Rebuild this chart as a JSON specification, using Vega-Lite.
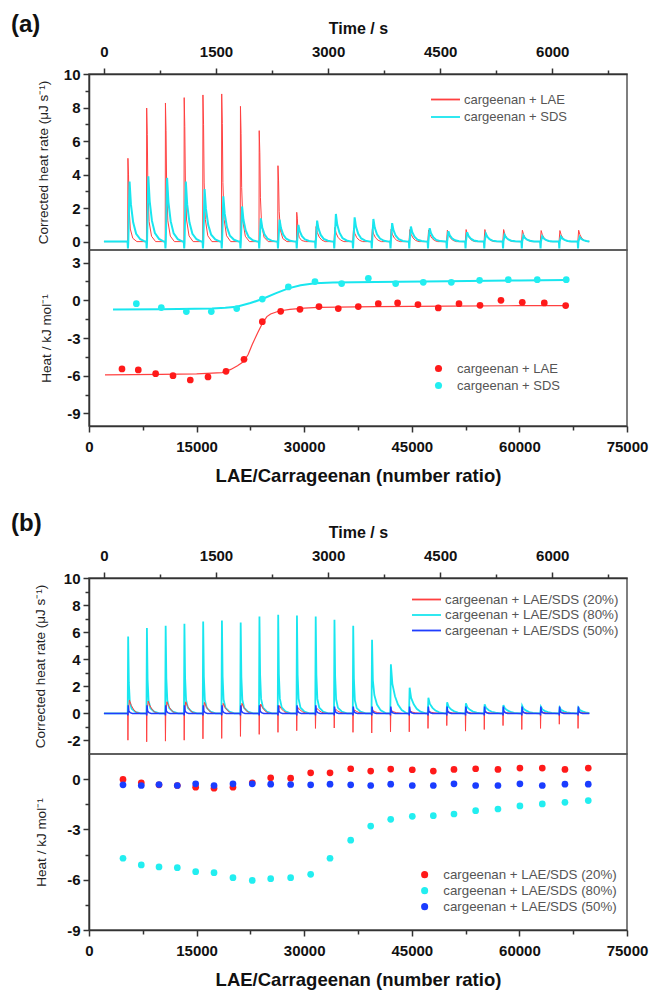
{
"$schema": "https://vega.github.io/schema/vega-lite/v6.json",
"padding": {"left": 10, "top": 12, "right": 0, "bottom": 0},
"config": {
  "font": "Liberation Sans",
  "view": {"stroke": "#555", "strokeWidth": 1.5},
  "axis": {"labelFont": "Liberation Sans", "labelFontSize": 15, "labelFontWeight": "bold", "labelColor": "#111", "titleFont": "Liberation Sans", "titleFontWeight": "normal", "titleFontSize": 13.5, "titleColor": "#222", "grid": false, "domainColor": "#333", "domainWidth": 1.5, "tickColor": "#333", "tickWidth": 1.5, "labelOverlap": false, "labelFlush": false},
  "legend": {"labelFont": "Liberation Sans", "labelColor": "#555", "padding": 0, "labelLimit": 400},
  "title": {"font": "Liberation Sans", "fontWeight": "bold", "fontSize": 24, "color": "#111"}
},
"resolve": {"scale": {"color": "independent"}, "legend": {"color": "independent"}},
"datasets": {
"aL": [{"t":0,"v":0},
{"t":318,"v":0},{"t":321,"v":4.97},{"t":329,"v":3.98},{"t":337,"v":1.99},{"t":353,"v":0.75},{"t":386,"v":0.2},{"t":441,"v":0},
{"t":569,"v":0},{"t":572,"v":7.97},{"t":580,"v":6.38},{"t":588,"v":3.19},{"t":604,"v":1.2},{"t":637,"v":0.32},{"t":692,"v":0},
{"t":820,"v":0},{"t":823,"v":8.27},{"t":831,"v":6.62},{"t":839,"v":3.31},{"t":855,"v":1.24},{"t":888,"v":0.33},{"t":943,"v":0},
{"t":1071,"v":0},{"t":1074,"v":8.59},{"t":1082,"v":6.87},{"t":1090,"v":3.44},{"t":1106,"v":1.29},{"t":1139,"v":0.34},{"t":1194,"v":0},
{"t":1322,"v":0},{"t":1325,"v":8.75},{"t":1333,"v":7.0},{"t":1341,"v":3.5},{"t":1357,"v":1.31},{"t":1390,"v":0.35},{"t":1445,"v":0},
{"t":1573,"v":0},{"t":1576,"v":8.81},{"t":1584,"v":7.05},{"t":1592,"v":3.52},{"t":1608,"v":1.32},{"t":1641,"v":0.35},{"t":1696,"v":0},
{"t":1824,"v":0},{"t":1827,"v":8.07},{"t":1835,"v":6.46},{"t":1843,"v":3.23},{"t":1859,"v":1.21},{"t":1892,"v":0.32},{"t":1947,"v":0},
{"t":2075,"v":0},{"t":2078,"v":6.62},{"t":2086,"v":5.3},{"t":2094,"v":2.65},{"t":2110,"v":0.99},{"t":2143,"v":0.26},{"t":2198,"v":0},
{"t":2326,"v":0},{"t":2329,"v":4.53},{"t":2337,"v":3.62},{"t":2345,"v":1.81},{"t":2361,"v":0.68},{"t":2394,"v":0.18},{"t":2449,"v":0},
{"t":2577,"v":0},{"t":2580,"v":1.75},{"t":2588,"v":1.4},{"t":2596,"v":0.7},{"t":2612,"v":0.26},{"t":2645,"v":0.07},{"t":2700,"v":0},
{"t":2828,"v":0},{"t":2839,"v":0.9},{"t":2856,"v":0.54},{"t":2881,"v":0.27},{"t":2916,"v":0.09},{"t":2961,"v":0},
{"t":3079,"v":0},{"t":3090,"v":0.85},{"t":3107,"v":0.51},{"t":3132,"v":0.26},{"t":3167,"v":0.09},{"t":3212,"v":0},
{"t":3330,"v":0},{"t":3341,"v":0.8},{"t":3358,"v":0.48},{"t":3383,"v":0.24},{"t":3418,"v":0.08},{"t":3463,"v":0},
{"t":3581,"v":0},{"t":3592,"v":0.76},{"t":3609,"v":0.46},{"t":3634,"v":0.23},{"t":3669,"v":0.08},{"t":3714,"v":0},
{"t":3832,"v":0},{"t":3843,"v":0.74},{"t":3860,"v":0.44},{"t":3885,"v":0.22},{"t":3920,"v":0.07},{"t":3965,"v":0},
{"t":4083,"v":0},{"t":4094,"v":0.72},{"t":4111,"v":0.43},{"t":4136,"v":0.22},{"t":4171,"v":0.07},{"t":4216,"v":0},
{"t":4334,"v":0},{"t":4345,"v":0.7},{"t":4362,"v":0.42},{"t":4387,"v":0.21},{"t":4422,"v":0.07},{"t":4467,"v":0},
{"t":4585,"v":0},{"t":4596,"v":0.68},{"t":4613,"v":0.41},{"t":4638,"v":0.2},{"t":4673,"v":0.07},{"t":4718,"v":0},
{"t":4836,"v":0},{"t":4847,"v":0.72},{"t":4864,"v":0.43},{"t":4889,"v":0.22},{"t":4924,"v":0.07},{"t":4969,"v":0},
{"t":5087,"v":0},{"t":5098,"v":0.72},{"t":5115,"v":0.43},{"t":5140,"v":0.22},{"t":5175,"v":0.07},{"t":5220,"v":0},
{"t":5338,"v":0},{"t":5349,"v":0.72},{"t":5366,"v":0.43},{"t":5391,"v":0.22},{"t":5426,"v":0.07},{"t":5471,"v":0},
{"t":5589,"v":0},{"t":5600,"v":0.68},{"t":5617,"v":0.41},{"t":5642,"v":0.2},{"t":5677,"v":0.07},{"t":5722,"v":0},
{"t":5840,"v":0},{"t":5851,"v":0.66},{"t":5868,"v":0.4},{"t":5893,"v":0.2},{"t":5928,"v":0.07},{"t":5973,"v":0},
{"t":6091,"v":0},{"t":6102,"v":0.66},{"t":6119,"v":0.4},{"t":6144,"v":0.2},{"t":6179,"v":0.07},{"t":6224,"v":0},
{"t":6342,"v":0},{"t":6353,"v":0.68},{"t":6370,"v":0.41},{"t":6395,"v":0.2},{"t":6430,"v":0.07},{"t":6475,"v":0},{"t":6496,"v":0}],
"aS": [{"t":0,"v":0},
{"t":316,"v":0},{"t":321,"v":-0.4},{"t":326,"v":0},{"t":343,"v":3.58},{"t":361,"v":2.22},{"t":391,"v":1.15},{"t":431,"v":0.47},{"t":486,"v":0.14},{"t":551,"v":0},
{"t":567,"v":0},{"t":572,"v":-0.4},{"t":577,"v":0},{"t":594,"v":3.9},{"t":612,"v":2.42},{"t":642,"v":1.25},{"t":682,"v":0.51},{"t":737,"v":0.16},{"t":802,"v":0},
{"t":818,"v":0},{"t":823,"v":-0.4},{"t":828,"v":0},{"t":845,"v":3.8},{"t":863,"v":2.36},{"t":893,"v":1.22},{"t":933,"v":0.49},{"t":988,"v":0.15},{"t":1053,"v":0},
{"t":1069,"v":0},{"t":1074,"v":-0.4},{"t":1079,"v":0},{"t":1096,"v":3.58},{"t":1114,"v":2.22},{"t":1144,"v":1.15},{"t":1184,"v":0.47},{"t":1239,"v":0.14},{"t":1304,"v":0},
{"t":1320,"v":0},{"t":1325,"v":-0.4},{"t":1330,"v":0},{"t":1347,"v":3.14},{"t":1365,"v":1.95},{"t":1395,"v":1.0},{"t":1435,"v":0.41},{"t":1490,"v":0.13},{"t":1555,"v":0},
{"t":1571,"v":0},{"t":1576,"v":-0.4},{"t":1581,"v":0},{"t":1598,"v":2.7},{"t":1616,"v":1.67},{"t":1646,"v":0.86},{"t":1686,"v":0.35},{"t":1741,"v":0.11},{"t":1806,"v":0},
{"t":1822,"v":0},{"t":1827,"v":-0.4},{"t":1832,"v":0},{"t":1849,"v":2.1},{"t":1867,"v":1.3},{"t":1897,"v":0.67},{"t":1937,"v":0.27},{"t":1992,"v":0.08},{"t":2057,"v":0},
{"t":2073,"v":0},{"t":2078,"v":-0.4},{"t":2083,"v":0},{"t":2100,"v":1.39},{"t":2118,"v":0.86},{"t":2148,"v":0.44},{"t":2188,"v":0.18},{"t":2243,"v":0.06},{"t":2308,"v":0},
{"t":2324,"v":0},{"t":2329,"v":-0.4},{"t":2334,"v":0},{"t":2351,"v":1.31},{"t":2369,"v":0.81},{"t":2399,"v":0.42},{"t":2439,"v":0.17},{"t":2494,"v":0.05},{"t":2559,"v":0},
{"t":2575,"v":0},{"t":2580,"v":-0.4},{"t":2585,"v":0},{"t":2602,"v":1.0},{"t":2620,"v":0.62},{"t":2650,"v":0.32},{"t":2690,"v":0.13},{"t":2745,"v":0.04},{"t":2810,"v":0},
{"t":2826,"v":0},{"t":2831,"v":-0.4},{"t":2836,"v":0},{"t":2853,"v":1.25},{"t":2871,"v":0.78},{"t":2901,"v":0.4},{"t":2941,"v":0.16},{"t":2996,"v":0.05},{"t":3061,"v":0},
{"t":3077,"v":0},{"t":3082,"v":-0.4},{"t":3087,"v":0},{"t":3104,"v":1.65},{"t":3122,"v":1.02},{"t":3152,"v":0.53},{"t":3192,"v":0.21},{"t":3247,"v":0.07},{"t":3312,"v":0},
{"t":3328,"v":0},{"t":3333,"v":-0.4},{"t":3338,"v":0},{"t":3355,"v":1.45},{"t":3373,"v":0.9},{"t":3403,"v":0.46},{"t":3443,"v":0.19},{"t":3498,"v":0.06},{"t":3563,"v":0},
{"t":3579,"v":0},{"t":3584,"v":-0.4},{"t":3589,"v":0},{"t":3606,"v":1.35},{"t":3624,"v":0.84},{"t":3654,"v":0.43},{"t":3694,"v":0.18},{"t":3749,"v":0.05},{"t":3814,"v":0},
{"t":3830,"v":0},{"t":3835,"v":-0.4},{"t":3840,"v":0},{"t":3857,"v":1.1},{"t":3875,"v":0.68},{"t":3905,"v":0.35},{"t":3945,"v":0.14},{"t":4000,"v":0.04},{"t":4065,"v":0},
{"t":4081,"v":0},{"t":4086,"v":-0.4},{"t":4091,"v":0},{"t":4108,"v":0.9},{"t":4126,"v":0.56},{"t":4156,"v":0.29},{"t":4196,"v":0.12},{"t":4251,"v":0.04},{"t":4316,"v":0},
{"t":4332,"v":0},{"t":4337,"v":-0.4},{"t":4342,"v":0},{"t":4359,"v":0.8},{"t":4377,"v":0.5},{"t":4407,"v":0.26},{"t":4447,"v":0.1},{"t":4502,"v":0.03},{"t":4567,"v":0},
{"t":4583,"v":0},{"t":4588,"v":-0.4},{"t":4593,"v":0},{"t":4610,"v":0.62},{"t":4628,"v":0.38},{"t":4658,"v":0.2},{"t":4698,"v":0.08},{"t":4753,"v":0.02},{"t":4818,"v":0},
{"t":4834,"v":0},{"t":4839,"v":-0.4},{"t":4844,"v":0},{"t":4861,"v":0.56},{"t":4879,"v":0.35},{"t":4909,"v":0.18},{"t":4949,"v":0.07},{"t":5004,"v":0.02},{"t":5069,"v":0},
{"t":5085,"v":0},{"t":5090,"v":-0.4},{"t":5095,"v":0},{"t":5112,"v":0.46},{"t":5130,"v":0.29},{"t":5160,"v":0.15},{"t":5200,"v":0.06},{"t":5255,"v":0.02},{"t":5320,"v":0},
{"t":5336,"v":0},{"t":5341,"v":-0.4},{"t":5346,"v":0},{"t":5363,"v":0.4},{"t":5381,"v":0.25},{"t":5411,"v":0.13},{"t":5451,"v":0.05},{"t":5506,"v":0.02},{"t":5571,"v":0},
{"t":5587,"v":0},{"t":5592,"v":-0.4},{"t":5597,"v":0},{"t":5614,"v":0.36},{"t":5632,"v":0.22},{"t":5662,"v":0.12},{"t":5702,"v":0.05},{"t":5757,"v":0.01},{"t":5822,"v":0},
{"t":5838,"v":0},{"t":5843,"v":-0.4},{"t":5848,"v":0},{"t":5865,"v":0.32},{"t":5883,"v":0.2},{"t":5913,"v":0.1},{"t":5953,"v":0.04},{"t":6008,"v":0.01},{"t":6073,"v":0},
{"t":6089,"v":0},{"t":6094,"v":-0.4},{"t":6099,"v":0},{"t":6116,"v":0.3},{"t":6134,"v":0.19},{"t":6164,"v":0.1},{"t":6204,"v":0.04},{"t":6259,"v":0.01},{"t":6324,"v":0},
{"t":6340,"v":0},{"t":6345,"v":-0.4},{"t":6350,"v":0},{"t":6367,"v":0.28},{"t":6385,"v":0.17},{"t":6415,"v":0.09},{"t":6455,"v":0.04},{"t":6496,"v":0.01}],
"aLp": [{"r":4600,"h":-5.46},{"r":6870,"h":-5.54},{"r":9290,"h":-5.84},{"r":11710,"h":-6.0},{"r":14120,"h":-6.34},{"r":16590,"h":-6.1},{"r":19100,"h":-5.65},{"r":21610,"h":-4.7},{"r":24160,"h":-1.7},{"r":26720,"h":-0.88},{"r":29410,"h":-0.72},{"r":32060,"h":-0.5},{"r":34750,"h":-0.66},{"r":37540,"h":-0.5},{"r":40330,"h":-0.27},{"r":43020,"h":-0.21},{"r":45860,"h":-0.34},{"r":48690,"h":-0.61},{"r":51580,"h":-0.27},{"r":54510,"h":-0.4},{"r":57430,"h":0.0},{"r":60400,"h":-0.16},{"r":63470,"h":-0.21},{"r":66450,"h":-0.42}],
"aSp": [{"r":6600,"h":-0.27},{"r":10080,"h":-0.58},{"r":13570,"h":-0.9},{"r":17050,"h":-0.9},{"r":20590,"h":-0.66},{"r":24160,"h":0.1},{"r":27790,"h":1.06},{"r":31500,"h":1.49},{"r":35220,"h":1.33},{"r":38940,"h":1.75},{"r":42750,"h":1.33},{"r":46600,"h":1.43},{"r":50510,"h":1.43},{"r":54450,"h":1.59},{"r":58450,"h":1.64},{"r":62490,"h":1.64},{"r":66530,"h":1.64}],
"aLf": [{"r":2230,"h":-5.93},{"r":10000,"h":-5.9},{"r":15000,"h":-5.85},{"r":18570,"h":-5.75},{"r":19770,"h":-5.5},{"r":20700,"h":-5.2},{"r":21610,"h":-4.85},{"r":22200,"h":-4.3},{"r":22770,"h":-3.5},{"r":23500,"h":-2.6},{"r":24160,"h":-1.85},{"r":24800,"h":-1.3},{"r":25320,"h":-1.09},{"r":26500,"h":-0.85},{"r":28000,"h":-0.72},{"r":30000,"h":-0.62},{"r":32000,"h":-0.57},{"r":40000,"h":-0.5},{"r":50000,"h":-0.46},{"r":60000,"h":-0.43},{"r":66450,"h":-0.42}],
"aSf": [{"r":3350,"h":-0.74},{"r":10000,"h":-0.72},{"r":17150,"h":-0.66},{"r":19000,"h":-0.6},{"r":20590,"h":-0.52},{"r":22500,"h":-0.22},{"r":24160,"h":0.1},{"r":26000,"h":0.55},{"r":27790,"h":0.95},{"r":29500,"h":1.2},{"r":31500,"h":1.35},{"r":34000,"h":1.42},{"r":40000,"h":1.46},{"r":50000,"h":1.52},{"r":60000,"h":1.58},{"r":66530,"h":1.62}],
"bC": [{"t":0,"v":0},
{"t":318,"v":0},{"t":324,"v":5.68},{"t":333,"v":2.27},{"t":346,"v":0.85},{"t":371,"v":0.34},{"t":421,"v":0.11},{"t":491,"v":0},
{"t":569,"v":0},{"t":575,"v":6.3},{"t":584,"v":2.52},{"t":597,"v":0.95},{"t":622,"v":0.38},{"t":672,"v":0.13},{"t":742,"v":0},
{"t":820,"v":0},{"t":826,"v":6.47},{"t":835,"v":2.59},{"t":848,"v":0.97},{"t":873,"v":0.39},{"t":923,"v":0.13},{"t":993,"v":0},
{"t":1071,"v":0},{"t":1077,"v":6.62},{"t":1086,"v":2.65},{"t":1099,"v":0.99},{"t":1124,"v":0.4},{"t":1174,"v":0.13},{"t":1244,"v":0},
{"t":1322,"v":0},{"t":1328,"v":6.79},{"t":1337,"v":2.72},{"t":1350,"v":1.02},{"t":1375,"v":0.41},{"t":1425,"v":0.14},{"t":1495,"v":0},
{"t":1573,"v":0},{"t":1579,"v":6.86},{"t":1588,"v":2.74},{"t":1601,"v":1.03},{"t":1626,"v":0.41},{"t":1676,"v":0.14},{"t":1746,"v":0},
{"t":1824,"v":0},{"t":1830,"v":6.72},{"t":1839,"v":2.69},{"t":1852,"v":1.01},{"t":1877,"v":0.4},{"t":1927,"v":0.13},{"t":1997,"v":0},
{"t":2075,"v":0},{"t":2081,"v":7.16},{"t":2090,"v":2.86},{"t":2103,"v":1.07},{"t":2128,"v":0.43},{"t":2178,"v":0.14},{"t":2248,"v":0},
{"t":2326,"v":0},{"t":2332,"v":7.28},{"t":2341,"v":2.91},{"t":2354,"v":1.09},{"t":2379,"v":0.44},{"t":2429,"v":0.15},{"t":2499,"v":0},
{"t":2577,"v":0},{"t":2583,"v":7.23},{"t":2592,"v":2.89},{"t":2605,"v":1.08},{"t":2630,"v":0.43},{"t":2680,"v":0.14},{"t":2750,"v":0},
{"t":2828,"v":0},{"t":2834,"v":7.16},{"t":2843,"v":2.86},{"t":2856,"v":1.07},{"t":2881,"v":0.43},{"t":2931,"v":0.14},{"t":3001,"v":0},
{"t":3079,"v":0},{"t":3085,"v":6.91},{"t":3094,"v":2.76},{"t":3107,"v":1.04},{"t":3132,"v":0.41},{"t":3182,"v":0.14},{"t":3252,"v":0},
{"t":3330,"v":0},{"t":3336,"v":6.47},{"t":3345,"v":2.59},{"t":3358,"v":0.97},{"t":3383,"v":0.39},{"t":3433,"v":0.13},{"t":3503,"v":0},
{"t":3581,"v":0},{"t":3588,"v":5.43},{"t":3599,"v":2.44},{"t":3619,"v":1.36},{"t":3654,"v":0.65},{"t":3704,"v":0.22},{"t":3774,"v":0},
{"t":3832,"v":0},{"t":3840,"v":3.63},{"t":3860,"v":2.18},{"t":3895,"v":1.27},{"t":3935,"v":0.65},{"t":3985,"v":0.25},{"t":4055,"v":0},
{"t":4083,"v":0},{"t":4091,"v":1.9},{"t":4111,"v":1.14},{"t":4146,"v":0.67},{"t":4186,"v":0.34},{"t":4236,"v":0.13},{"t":4306,"v":0},
{"t":4334,"v":0},{"t":4342,"v":1.16},{"t":4362,"v":0.7},{"t":4397,"v":0.41},{"t":4437,"v":0.21},{"t":4487,"v":0.08},{"t":4557,"v":0},
{"t":4585,"v":0},{"t":4593,"v":0.81},{"t":4613,"v":0.49},{"t":4648,"v":0.28},{"t":4688,"v":0.15},{"t":4738,"v":0.06},{"t":4808,"v":0},
{"t":4836,"v":0},{"t":4844,"v":0.74},{"t":4864,"v":0.44},{"t":4899,"v":0.26},{"t":4939,"v":0.13},{"t":4989,"v":0.05},{"t":5059,"v":0},
{"t":5087,"v":0},{"t":5095,"v":0.67},{"t":5115,"v":0.4},{"t":5150,"v":0.23},{"t":5190,"v":0.12},{"t":5240,"v":0.05},{"t":5310,"v":0},
{"t":5338,"v":0},{"t":5346,"v":0.62},{"t":5366,"v":0.37},{"t":5401,"v":0.22},{"t":5441,"v":0.11},{"t":5491,"v":0.04},{"t":5561,"v":0},
{"t":5589,"v":0},{"t":5597,"v":0.57},{"t":5617,"v":0.34},{"t":5652,"v":0.2},{"t":5692,"v":0.1},{"t":5742,"v":0.04},{"t":5812,"v":0},
{"t":5840,"v":0},{"t":5848,"v":0.49},{"t":5868,"v":0.29},{"t":5903,"v":0.17},{"t":5943,"v":0.09},{"t":5993,"v":0.03},{"t":6063,"v":0},
{"t":6091,"v":0},{"t":6099,"v":0.44},{"t":6119,"v":0.26},{"t":6154,"v":0.15},{"t":6194,"v":0.08},{"t":6244,"v":0.03},{"t":6314,"v":0},
{"t":6342,"v":0},{"t":6350,"v":0.42},{"t":6370,"v":0.25},{"t":6405,"v":0.15},{"t":6445,"v":0.08},{"t":6496,"v":0.02}],
"bR": [{"t":0,"v":0},
{"t":318,"v":0},{"t":321,"v":-1.98},{"t":325,"v":0},{"t":341,"v":0.99},{"t":366,"v":0.59},{"t":401,"v":0.25},{"t":441,"v":0.05},{"t":481,"v":0},
{"t":569,"v":0},{"t":572,"v":-2.1},{"t":576,"v":0},{"t":592,"v":0.91},{"t":617,"v":0.55},{"t":652,"v":0.23},{"t":692,"v":0.05},{"t":732,"v":0},
{"t":820,"v":0},{"t":823,"v":-2.05},{"t":827,"v":0},{"t":843,"v":0.86},{"t":868,"v":0.52},{"t":903,"v":0.22},{"t":943,"v":0.04},{"t":983,"v":0},
{"t":1071,"v":0},{"t":1074,"v":-1.98},{"t":1078,"v":0},{"t":1094,"v":0.86},{"t":1119,"v":0.52},{"t":1154,"v":0.22},{"t":1194,"v":0.04},{"t":1234,"v":0},
{"t":1322,"v":0},{"t":1325,"v":-1.88},{"t":1329,"v":0},{"t":1345,"v":0.81},{"t":1370,"v":0.49},{"t":1405,"v":0.2},{"t":1445,"v":0.04},{"t":1485,"v":0},
{"t":1573,"v":0},{"t":1576,"v":-1.85},{"t":1580,"v":0},{"t":1596,"v":0.74},{"t":1621,"v":0.44},{"t":1656,"v":0.19},{"t":1696,"v":0.04},{"t":1736,"v":0},
{"t":1824,"v":0},{"t":1827,"v":-1.7},{"t":1831,"v":0},{"t":1847,"v":0.74},{"t":1872,"v":0.44},{"t":1907,"v":0.19},{"t":1947,"v":0.04},{"t":1987,"v":0},
{"t":2075,"v":0},{"t":2078,"v":-1.55},{"t":2082,"v":0},{"t":2098,"v":0.69},{"t":2123,"v":0.41},{"t":2158,"v":0.17},{"t":2198,"v":0.03},{"t":2238,"v":0},
{"t":2326,"v":0},{"t":2329,"v":-1.4},{"t":2333,"v":0},{"t":2349,"v":0.57},{"t":2374,"v":0.34},{"t":2409,"v":0.14},{"t":2449,"v":0.03},{"t":2489,"v":0},
{"t":2577,"v":0},{"t":2580,"v":-1.28},{"t":2584,"v":0},{"t":2600,"v":0.42},{"t":2625,"v":0.25},{"t":2660,"v":0.11},{"t":2700,"v":0.02},{"t":2740,"v":0},
{"t":2828,"v":0},{"t":2831,"v":-1.11},{"t":2835,"v":0},{"t":2851,"v":0.37},{"t":2876,"v":0.22},{"t":2911,"v":0.09},{"t":2951,"v":0.02},{"t":2991,"v":0},
{"t":3079,"v":0},{"t":3082,"v":-1.08},{"t":3086,"v":0},{"t":3102,"v":0.3},{"t":3127,"v":0.18},{"t":3162,"v":0.08},{"t":3202,"v":0.02},{"t":3242,"v":0},
{"t":3330,"v":0},{"t":3333,"v":-1.4},{"t":3337,"v":0},{"t":3353,"v":0.25},{"t":3378,"v":0.15},{"t":3413,"v":0.06},{"t":3493,"v":0},
{"t":3581,"v":0},{"t":3584,"v":-1.45},{"t":3588,"v":0},{"t":3604,"v":0.2},{"t":3629,"v":0.12},{"t":3664,"v":0.05},{"t":3744,"v":0},
{"t":3832,"v":0},{"t":3835,"v":-1.36},{"t":3839,"v":0},{"t":3855,"v":0.18},{"t":3880,"v":0.11},{"t":3915,"v":0.05},{"t":3995,"v":0},
{"t":4083,"v":0},{"t":4086,"v":-1.36},{"t":4090,"v":0},{"t":4106,"v":0.15},{"t":4131,"v":0.09},{"t":4166,"v":0.04},{"t":4246,"v":0},
{"t":4334,"v":0},{"t":4337,"v":-1.11},{"t":4341,"v":0},{"t":4357,"v":0.14},{"t":4382,"v":0.08},{"t":4417,"v":0.04},{"t":4497,"v":0},
{"t":4585,"v":0},{"t":4588,"v":-0.9},{"t":4592,"v":0},{"t":4608,"v":0.12},{"t":4633,"v":0.07},{"t":4668,"v":0.03},{"t":4748,"v":0},
{"t":4836,"v":0},{"t":4839,"v":-1.31},{"t":4843,"v":0},{"t":4859,"v":0.12},{"t":4884,"v":0.07},{"t":4919,"v":0.03},{"t":4999,"v":0},
{"t":5087,"v":0},{"t":5090,"v":-1.19},{"t":5094,"v":0},{"t":5110,"v":0.1},{"t":5135,"v":0.06},{"t":5170,"v":0.03},{"t":5250,"v":0},
{"t":5338,"v":0},{"t":5341,"v":-0.9},{"t":5345,"v":0},{"t":5361,"v":0.1},{"t":5386,"v":0.06},{"t":5421,"v":0.03},{"t":5501,"v":0},
{"t":5589,"v":0},{"t":5592,"v":-1.19},{"t":5596,"v":0},{"t":5612,"v":0.1},{"t":5637,"v":0.06},{"t":5672,"v":0.03},{"t":5752,"v":0},
{"t":5840,"v":0},{"t":5843,"v":-1.11},{"t":5847,"v":0},{"t":5863,"v":0.1},{"t":5888,"v":0.06},{"t":5923,"v":0.03},{"t":6003,"v":0},
{"t":6091,"v":0},{"t":6094,"v":-0.8},{"t":6098,"v":0},{"t":6114,"v":0.1},{"t":6139,"v":0.06},{"t":6174,"v":0.03},{"t":6254,"v":0},
{"t":6342,"v":0},{"t":6345,"v":-1.11},{"t":6349,"v":0},{"t":6365,"v":0.1},{"t":6390,"v":0.06},{"t":6425,"v":0.03},{"t":6496,"v":0}],
"bB": [{"t":0,"v":0},
{"t":318,"v":0},{"t":321,"v":-0.15},{"t":325,"v":0.6},{"t":333,"v":0.18},{"t":351,"v":0.05},{"t":381,"v":0},
{"t":569,"v":0},{"t":572,"v":-0.15},{"t":576,"v":0.6},{"t":584,"v":0.18},{"t":602,"v":0.05},{"t":632,"v":0},
{"t":820,"v":0},{"t":823,"v":-0.15},{"t":827,"v":0.6},{"t":835,"v":0.18},{"t":853,"v":0.05},{"t":883,"v":0},
{"t":1071,"v":0},{"t":1074,"v":-0.15},{"t":1078,"v":0.6},{"t":1086,"v":0.18},{"t":1104,"v":0.05},{"t":1134,"v":0},
{"t":1322,"v":0},{"t":1325,"v":-0.15},{"t":1329,"v":0.6},{"t":1337,"v":0.18},{"t":1355,"v":0.05},{"t":1385,"v":0},
{"t":1573,"v":0},{"t":1576,"v":-0.15},{"t":1580,"v":0.6},{"t":1588,"v":0.18},{"t":1606,"v":0.05},{"t":1636,"v":0},
{"t":1824,"v":0},{"t":1827,"v":-0.15},{"t":1831,"v":0.6},{"t":1839,"v":0.18},{"t":1857,"v":0.05},{"t":1887,"v":0},
{"t":2075,"v":0},{"t":2078,"v":-0.15},{"t":2082,"v":0.6},{"t":2090,"v":0.18},{"t":2108,"v":0.05},{"t":2138,"v":0},
{"t":2326,"v":0},{"t":2329,"v":-0.15},{"t":2333,"v":0.6},{"t":2341,"v":0.18},{"t":2359,"v":0.05},{"t":2389,"v":0},
{"t":2577,"v":0},{"t":2580,"v":-0.15},{"t":2584,"v":0.6},{"t":2592,"v":0.18},{"t":2610,"v":0.05},{"t":2640,"v":0},
{"t":2828,"v":0},{"t":2831,"v":-0.15},{"t":2835,"v":0.6},{"t":2843,"v":0.18},{"t":2861,"v":0.05},{"t":2891,"v":0},
{"t":3079,"v":0},{"t":3082,"v":-0.15},{"t":3086,"v":0.5},{"t":3094,"v":0.15},{"t":3112,"v":0.04},{"t":3142,"v":0},
{"t":3330,"v":0},{"t":3333,"v":-0.15},{"t":3337,"v":0.5},{"t":3345,"v":0.15},{"t":3363,"v":0.04},{"t":3393,"v":0},
{"t":3581,"v":0},{"t":3584,"v":-0.15},{"t":3588,"v":0.5},{"t":3596,"v":0.15},{"t":3614,"v":0.04},{"t":3644,"v":0},
{"t":3832,"v":0},{"t":3835,"v":-0.15},{"t":3839,"v":0.5},{"t":3847,"v":0.15},{"t":3865,"v":0.04},{"t":3895,"v":0},
{"t":4083,"v":0},{"t":4086,"v":-0.15},{"t":4090,"v":0.5},{"t":4098,"v":0.15},{"t":4116,"v":0.04},{"t":4146,"v":0},
{"t":4334,"v":0},{"t":4337,"v":-0.15},{"t":4341,"v":0.5},{"t":4349,"v":0.15},{"t":4367,"v":0.04},{"t":4397,"v":0},
{"t":4585,"v":0},{"t":4588,"v":-0.15},{"t":4592,"v":0.5},{"t":4600,"v":0.15},{"t":4618,"v":0.04},{"t":4648,"v":0},
{"t":4836,"v":0},{"t":4839,"v":-0.15},{"t":4843,"v":0.5},{"t":4851,"v":0.15},{"t":4869,"v":0.04},{"t":4899,"v":0},
{"t":5087,"v":0},{"t":5090,"v":-0.15},{"t":5094,"v":0.5},{"t":5102,"v":0.15},{"t":5120,"v":0.04},{"t":5150,"v":0},
{"t":5338,"v":0},{"t":5341,"v":-0.15},{"t":5345,"v":0.5},{"t":5353,"v":0.15},{"t":5371,"v":0.04},{"t":5401,"v":0},
{"t":5589,"v":0},{"t":5592,"v":-0.15},{"t":5596,"v":0.5},{"t":5604,"v":0.15},{"t":5622,"v":0.04},{"t":5652,"v":0},
{"t":5840,"v":0},{"t":5843,"v":-0.15},{"t":5847,"v":0.5},{"t":5855,"v":0.15},{"t":5873,"v":0.04},{"t":5903,"v":0},
{"t":6091,"v":0},{"t":6094,"v":-0.15},{"t":6098,"v":0.5},{"t":6106,"v":0.15},{"t":6124,"v":0.04},{"t":6154,"v":0},
{"t":6342,"v":0},{"t":6345,"v":-0.15},{"t":6349,"v":0.5},{"t":6357,"v":0.15},{"t":6375,"v":0.04},{"t":6405,"v":0},{"t":6496,"v":0}],
"bRp": [{"r":4740,"h":-0.02},{"r":7290,"h":-0.22},{"r":9760,"h":-0.34},{"r":12310,"h":-0.38},{"r":14870,"h":-0.48},{"r":17430,"h":-0.54},{"r":20070,"h":-0.48},{"r":22760,"h":-0.22},{"r":25330,"h":0.08},{"r":28110,"h":0.06},{"r":30900,"h":0.38},{"r":33600,"h":0.38},{"r":36480,"h":0.62},{"r":39270,"h":0.48},{"r":42060,"h":0.6},{"r":45070,"h":0.56},{"r":48000,"h":0.48},{"r":50880,"h":0.58},{"r":53900,"h":0.62},{"r":57010,"h":0.58},{"r":60070,"h":0.66},{"r":63190,"h":0.66},{"r":66350,"h":0.58},{"r":69600,"h":0.66}],
"bCp": [{"r":4740,"h":-4.72},{"r":7290,"h":-5.12},{"r":9760,"h":-5.24},{"r":12310,"h":-5.28},{"r":14870,"h":-5.52},{"r":17430,"h":-5.58},{"r":20070,"h":-5.88},{"r":22760,"h":-6.04},{"r":25330,"h":-5.94},{"r":28110,"h":-5.88},{"r":30900,"h":-5.68},{"r":33600,"h":-4.72},{"r":36480,"h":-3.64},{"r":39270,"h":-2.8},{"r":42060,"h":-2.4},{"r":45070,"h":-2.22},{"r":48000,"h":-2.18},{"r":50880,"h":-2.08},{"r":53900,"h":-1.88},{"r":57010,"h":-1.78},{"r":60070,"h":-1.6},{"r":63190,"h":-1.48},{"r":66350,"h":-1.38},{"r":69600,"h":-1.28}],
"bBp": [{"r":4740,"h":-0.34},{"r":7290,"h":-0.38},{"r":9760,"h":-0.32},{"r":12310,"h":-0.38},{"r":14870,"h":-0.28},{"r":17430,"h":-0.38},{"r":20070,"h":-0.28},{"r":22760,"h":-0.28},{"r":25330,"h":-0.3},{"r":28110,"h":-0.32},{"r":30900,"h":-0.34},{"r":33600,"h":-0.3},{"r":36480,"h":-0.34},{"r":39270,"h":-0.38},{"r":42060,"h":-0.3},{"r":45070,"h":-0.38},{"r":48000,"h":-0.38},{"r":50880,"h":-0.28},{"r":53900,"h":-0.38},{"r":57010,"h":-0.38},{"r":60070,"h":-0.28},{"r":63190,"h":-0.38},{"r":66350,"h":-0.3},{"r":69600,"h":-0.3}]
},
"vconcat": [
{
  "width": 538, "height": 176,
  "title": {"text": "(a)", "anchor": "start", "frame": "group", "baseline": "alphabetic", "dx": -78, "dy": 40},
  "encoding": {
    "x": {"field": "t", "type": "quantitative", "scale": {"domain": [-200, 7000], "nice": false, "zero": false},
      "axis": {"orient": "top", "title": "Time / s", "titleFontSize": 16, "titleFontWeight": "bold", "titleColor": "#111", "values": [0,750,1500,2250,3000,3750,4500,5250,6000,6750], "format": "d", "labelExpr": "datum.value % 1500 == 0 ? datum.label : ''", "tickSize": {"condition": {"test": "datum.value % 1500 == 0", "value": 6}, "value": 4}, "labelPadding": 9, "titlePadding": 8}},
    "y": {"field": "v", "type": "quantitative", "scale": {"domain": [-0.5, 10], "nice": false, "zero": false},
      "axis": {"title": "Corrected heat rate (μJ s⁻¹)", "values": [0,1,2,3,4,5,6,7,8,9,10], "labelExpr": "datum.value % 2 == 0 ? '' + datum.value : ''", "tickSize": {"condition": {"test": "datum.value % 2 == 0", "value": 6}, "value": 4}, "labelPadding": 3, "titlePadding": 13}}
  },
  "layer": [
    {"data": {"name": "aL"}, "mark": {"type": "line", "strokeWidth": 1},
     "encoding": {"color": {"datum": "cargeenan + LAE", "scale": {"domain": ["cargeenan + LAE", "cargeenan + SDS"], "range": ["#ff4040", "#19e6ef"]},
       "legend": {"orient": "none", "legendX": 348, "legendY": 17, "title": null, "symbolType": "M-2,0H2", "symbolSize": 210, "symbolStrokeWidth": 1.8, "labelFontSize": 13, "labelOffset": 10, "rowPadding": 1.5}}}},
    {"data": {"name": "aS"}, "mark": {"type": "line", "strokeWidth": 2},
     "encoding": {"color": {"datum": "cargeenan + SDS"}}}
  ]
},
{
  "width": 538, "height": 176,
  "encoding": {
    "x": {"field": "r", "type": "quantitative", "scale": {"domain": [0, 75000], "nice": false, "zero": false},
      "axis": {"orient": "bottom", "title": "LAE/Carrageenan (number ratio)", "titleFontSize": 18.5, "titleFontWeight": "bold", "titleColor": "#111", "values": [0,7500,15000,22500,30000,37500,45000,52500,60000,67500,75000], "format": "d", "labelExpr": "datum.value % 15000 == 0 ? datum.label : ''", "tickSize": {"condition": {"test": "datum.value % 15000 == 0", "value": 6}, "value": 4}, "labelPadding": 7, "titlePadding": 12}},
    "y": {"field": "h", "type": "quantitative", "scale": {"domain": [-10, 4], "nice": false, "zero": false},
      "axis": {"title": "Heat / kJ mol⁻¹", "values": [-9,-7.5,-6,-4.5,-3,-1.5,0,1.5,3], "labelExpr": "datum.value % 3 == 0 ? '' + datum.value : ''", "tickSize": {"condition": {"test": "datum.value % 3 == 0", "value": 6}, "value": 4}, "labelPadding": 3, "titlePadding": 13}}
  },
  "layer": [
    {"data": {"name": "aLf"}, "mark": {"type": "line", "strokeWidth": 1.2, "color": "#ff4040"}},
    {"data": {"name": "aSf"}, "mark": {"type": "line", "strokeWidth": 2, "color": "#19e6ef"}},
    {"data": {"name": "aLp"}, "mark": {"type": "circle", "size": 45, "opacity": 1},
     "encoding": {"color": {"datum": "cargeenan + LAE", "scale": {"domain": ["cargeenan + LAE", "cargeenan + SDS"], "range": ["#ff1a1a", "#22eef0"]},
       "legend": {"orient": "none", "legendX": 343, "legendY": 112, "title": null, "symbolType": "circle", "symbolSize": 50, "symbolOpacity": 1, "labelFontSize": 13, "labelOffset": 12, "rowPadding": 3}}}},
    {"data": {"name": "aSp"}, "mark": {"type": "circle", "size": 45, "opacity": 1},
     "encoding": {"color": {"datum": "cargeenan + SDS"}}}
  ]
},
{
  "width": 538, "height": 152,
  "data": {"values": []},
  "mark": "point",
  "view": {"stroke": null}
},
{
  "width": 538, "height": 176,
  "title": {"text": "(b)", "anchor": "start", "frame": "group", "baseline": "alphabetic", "dx": -78, "dy": 35},
  "encoding": {
    "x": {"field": "t", "type": "quantitative", "scale": {"domain": [-200, 7000], "nice": false, "zero": false},
      "axis": {"orient": "top", "title": "Time / s", "titleFontSize": 16, "titleFontWeight": "bold", "titleColor": "#111", "values": [0,750,1500,2250,3000,3750,4500,5250,6000,6750], "format": "d", "labelExpr": "datum.value % 1500 == 0 ? datum.label : ''", "tickSize": {"condition": {"test": "datum.value % 1500 == 0", "value": 6}, "value": 4}, "labelPadding": 9, "titlePadding": 8}},
    "y": {"field": "v", "type": "quantitative", "scale": {"domain": [-3, 10], "nice": false, "zero": false},
      "axis": {"title": "Corrected heat rate (μJ s⁻¹)", "values": [-2,-1,0,1,2,3,4,5,6,7,8,9,10], "labelExpr": "datum.value % 2 == 0 ? '' + datum.value : ''", "tickSize": {"condition": {"test": "datum.value % 2 == 0", "value": 6}, "value": 4}, "labelPadding": 3, "titlePadding": 16}}
  },
  "layer": [
    {"data": {"name": "bC"}, "mark": {"type": "line", "strokeWidth": 1.8},
     "encoding": {"color": {"datum": "cargeenan + LAE/SDS (80%)", "scale": {"domain": ["cargeenan + LAE/SDS (20%)", "cargeenan + LAE/SDS (80%)", "cargeenan + LAE/SDS (50%)"], "range": ["#ff4040", "#19e6ef", "#1f3dff"]},
       "legend": {"orient": "none", "legendX": 329, "legendY": 13, "title": null, "symbolType": "M-2,0H2", "symbolSize": 210, "symbolStrokeWidth": 1.8, "labelFontSize": 13.3, "labelOffset": 10, "rowPadding": 0.5}}}},
    {"data": {"name": "bR"}, "mark": {"type": "line", "strokeWidth": 1},
     "encoding": {"color": {"datum": "cargeenan + LAE/SDS (20%)"}}},
    {"data": {"name": "bB"}, "mark": {"type": "line", "strokeWidth": 1.5},
     "encoding": {"color": {"datum": "cargeenan + LAE/SDS (50%)"}}}
  ]
},
{
  "width": 538, "height": 176,
  "encoding": {
    "x": {"field": "r", "type": "quantitative", "scale": {"domain": [0, 75000], "nice": false, "zero": false},
      "axis": {"orient": "bottom", "title": "LAE/Carrageenan (number ratio)", "titleFontSize": 18.5, "titleFontWeight": "bold", "titleColor": "#111", "values": [0,7500,15000,22500,30000,37500,45000,52500,60000,67500,75000], "format": "d", "labelExpr": "datum.value % 15000 == 0 ? datum.label : ''", "tickSize": {"condition": {"test": "datum.value % 15000 == 0", "value": 6}, "value": 4}, "labelPadding": 7, "titlePadding": 12}},
    "y": {"field": "h", "type": "quantitative", "scale": {"domain": [-9, 1.5], "nice": false, "zero": false},
      "axis": {"title": "Heat / kJ mol⁻¹", "values": [-9,-7.5,-6,-4.5,-3,-1.5,0], "labelExpr": "datum.value % 3 == 0 ? '' + datum.value : ''", "tickSize": {"condition": {"test": "datum.value % 3 == 0", "value": 6}, "value": 4}, "labelPadding": 3, "titlePadding": 18}}
  },
  "layer": [
    {"data": {"name": "bRp"}, "mark": {"type": "circle", "size": 45, "opacity": 1},
     "encoding": {"color": {"datum": "cargeenan + LAE/SDS (20%)", "scale": {"domain": ["cargeenan + LAE/SDS (20%)", "cargeenan + LAE/SDS (80%)", "cargeenan + LAE/SDS (50%)"], "range": ["#ff1a1a", "#22eef0", "#1a3cff"]},
       "legend": {"orient": "none", "legendX": 329, "legendY": 114, "title": null, "symbolType": "circle", "symbolSize": 50, "symbolOpacity": 1, "labelFontSize": 13.3, "labelOffset": 12, "rowPadding": 2}}}},
    {"data": {"name": "bCp"}, "mark": {"type": "circle", "size": 45, "opacity": 1},
     "encoding": {"color": {"datum": "cargeenan + LAE/SDS (80%)"}}},
    {"data": {"name": "bBp"}, "mark": {"type": "circle", "size": 45, "opacity": 1},
     "encoding": {"color": {"datum": "cargeenan + LAE/SDS (50%)"}}}
  ]
}
],
"spacing": 0,
"bounds": "flush"
}
